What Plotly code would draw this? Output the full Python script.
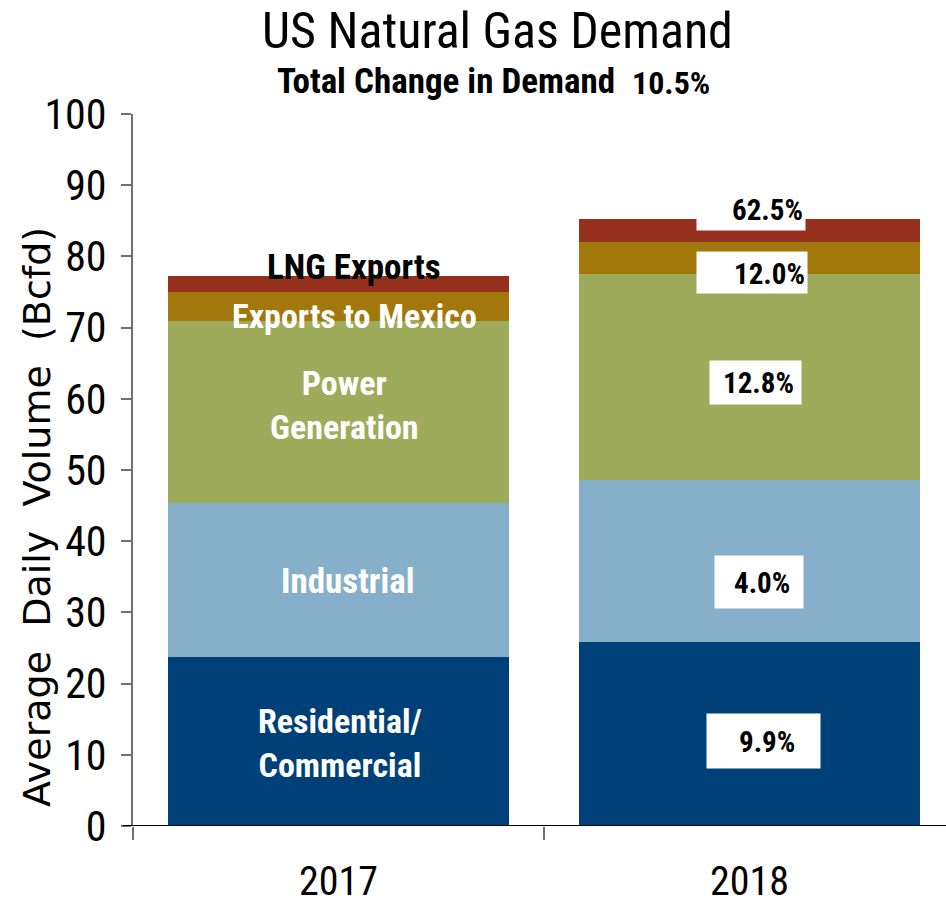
import plotly.graph_objects as go

years = ["2017", "2018"]
segments = ["Residential/<br>Commercial", "Industrial", "Power<br>Generation", "Exports to Mexico", "LNG Exports"]
residential = [23.8, 25.9]
industrial = [21.6, 22.7]
power = [25.5, 28.9]
mexico = [4.1, 4.5]
lng = [2.2, 3.3]
changes = ["9.9%", "4.0%", "12.8%", "12.0%", "62.5%"]
title_text = "US Natural Gas Demand"
subtitle_text = "Total Change in Demand"
total_change = "10.5%"
y_title = "Average&nbsp;&nbsp;Daily&nbsp;&nbsp;Volume&nbsp;&nbsp;(Bcfd)"
y_ticks = list(range(0, 101, 10))

colors = ["#004079", "#86B0C9", "#9EAB5B", "#A2770B", "#95301D"]
series = [residential, industrial, power, mexico, lng]

NARROW = "Liberation Sans Narrow, Arial Narrow, Roboto Condensed, DejaVu Sans Condensed, sans-serif"
WIDE = "DejaVu Sans, Verdana, sans-serif"

fig = go.Figure()
for name, vals, col in zip(segments, series, colors):
    fig.add_trace(go.Bar(x=years, y=vals, name=name, marker=dict(color=col, line=dict(width=0)),
                         width=0.831, hoverinfo="skip"))

annotations = []
# 2017 segment labels (x index 0 on the category axis)
lab17 = [
    ("Residential/<br>Commercial", 11.7, 1, "white", 34),
    ("Industrial", 34.4, 9, "white", 35),
    ("Power<br>Generation", 59.1, 6, "white", 34),
    ("Exports to Mexico", 71.6, 16, "white", 34),
    ("LNG Exports", 78.5, 15, "black", 35),
]
for txt, yv, xs, col, fs in lab17:
    annotations.append(dict(x=0, y=yv, xshift=xs, text="<b>" + txt + "</b>", showarrow=False,
                            font=dict(family=NARROW, size=fs, color=col), align="center",
                            yanchor="middle", xanchor="center"))

# 2018 change boxes: (y center, box xshift, box w, box h, text xshift)
boxes = [
    (11.9, 14, 113, 54, 17),
    (34.3, 9.5, 88, 52, 12),
    (62.3, 6, 91, 43, 9),
    (77.7, 2.5, 110, 41, 20),
    (86.7, 1.5, 108, 43, 17.5),
]
for chg, (yv, bxs, bw, bh, txs) in zip(changes, boxes):
    annotations.append(dict(x=1, y=yv, xshift=bxs, text=" ", showarrow=False, bgcolor="white",
                            width=bw, height=bh, borderpad=0, font=dict(size=10),
                            xanchor="center", yanchor="middle"))
    annotations.append(dict(x=1, y=yv, xshift=txs, yshift=-1, text="<b>" + chg + "</b>", showarrow=False,
                            font=dict(family=NARROW, size=29, color="black"),
                            xanchor="center", yanchor="middle"))

# titles
annotations.append(dict(xref="paper", yref="paper", x=(497 - 133) / 813, y=(826 - 31) / 712,
                        text=title_text, showarrow=False, xanchor="center", yanchor="middle",
                        font=dict(family=NARROW, size=50, color="black")))
annotations.append(dict(xref="paper", yref="paper", x=(446 - 133) / 813, y=(826 - 82) / 712,
                        text="<b>" + subtitle_text + "</b>", showarrow=False, xanchor="center", yanchor="middle",
                        font=dict(family=NARROW, size=35, color="black")))
annotations.append(dict(xref="paper", yref="paper", x=(671 - 133) / 813, y=(826 - 83) / 712,
                        text="<b>" + total_change + "</b>", showarrow=False, xanchor="center", yanchor="middle",
                        font=dict(family=NARROW, size=32, color="black")))
# y axis title
annotations.append(dict(xref="paper", yref="paper", x=(37 - 133) / 813, y=(826 - 517) / 712,
                        text=y_title, textangle=-90, showarrow=False,
                        xanchor="center", yanchor="middle",
                        font=dict(family=WIDE, size=38, color="black")))

fig.update_layout(
    barmode="stack",
    width=946, height=905,
    margin=dict(l=133, r=0, t=114, b=79),
    paper_bgcolor="white", plot_bgcolor="white",
    showlegend=False,
    annotations=annotations,
    shapes=[dict(type="line", xref="paper", yref="y", x0=-10 / 813, x1=1, y0=0, y1=0,
                 line=dict(color="black", width=2), layer="above")],
    xaxis=dict(type="category", range=[-0.5, 1.478], showline=False, ticks="outside", tickson="boundaries",
               ticklen=13, tickcolor="#707070", tickwidth=2, showgrid=False, zeroline=False,
               tickfont=dict(family=NARROW, size=40, color="black"), ticklabelstandoff=28),
    yaxis=dict(range=[0, 100], tickvals=y_ticks, showline=True, linecolor="#707070", linewidth=2,
               ticks="outside", ticklen=10, tickcolor="#707070", tickwidth=2, showgrid=False, zeroline=False,
               tickfont=dict(family=NARROW, size=42, color="black"), ticklabelstandoff=6),
)

fig.write_html("out.html", config={"displayModeBar": False},
               post_script="document.body.style.margin='0px';")
